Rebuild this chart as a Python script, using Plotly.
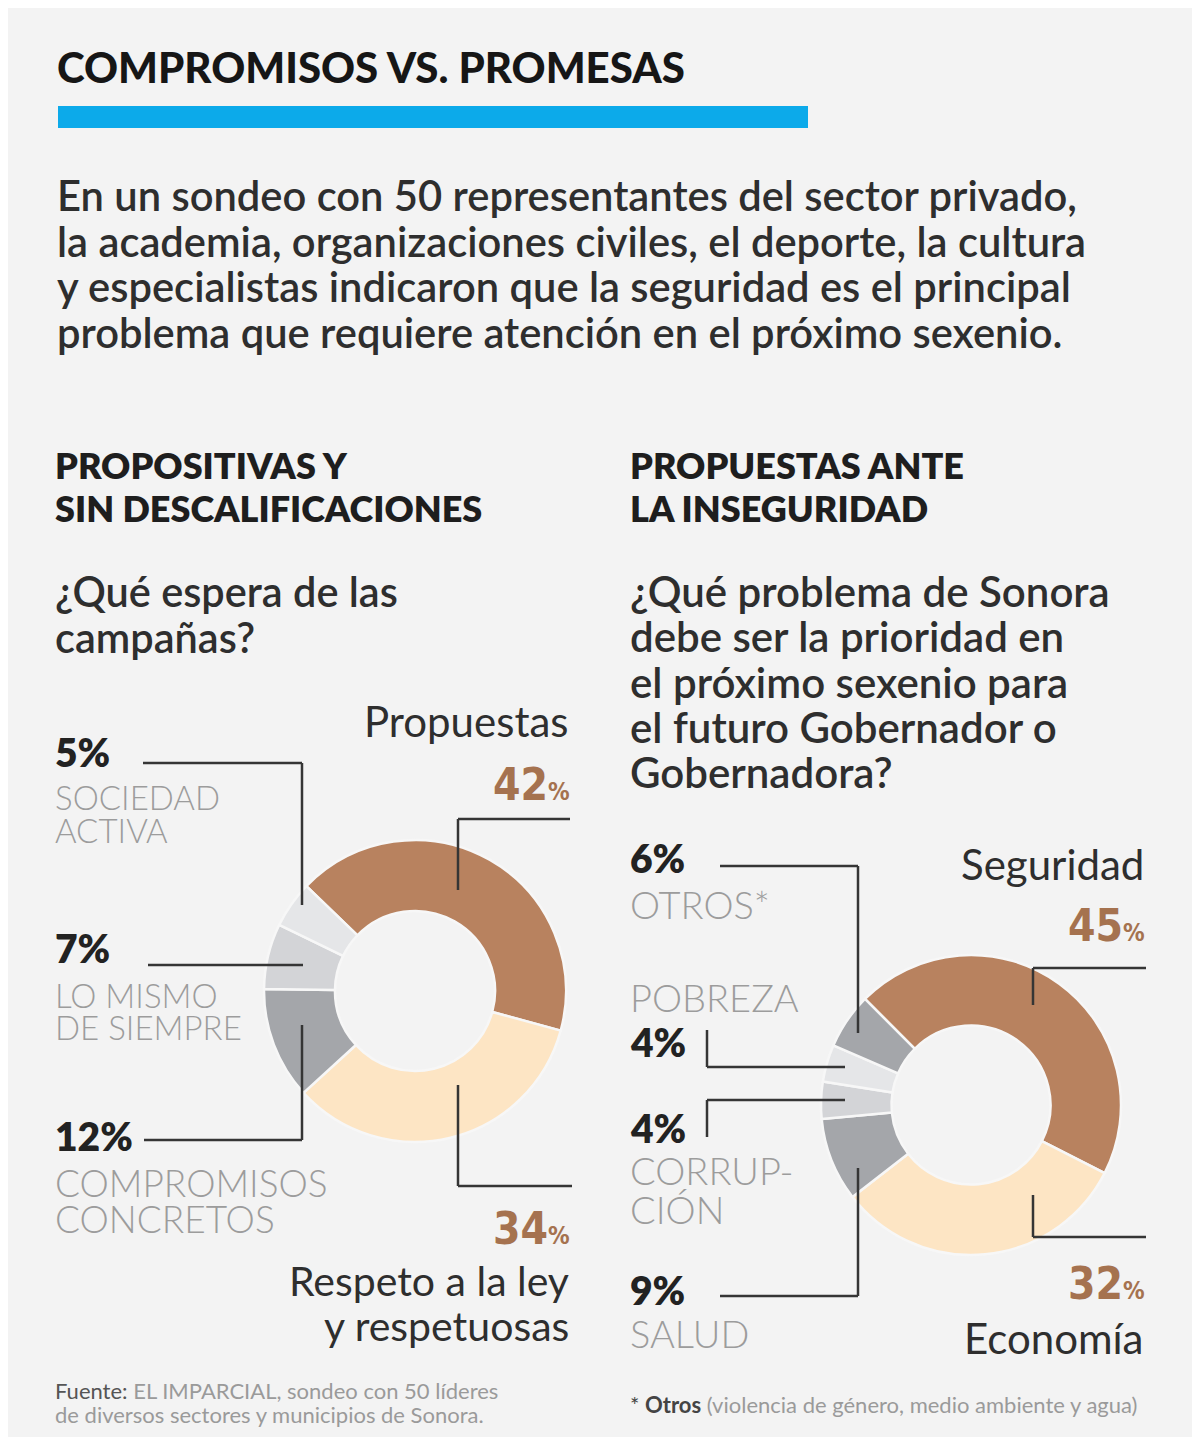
import plotly.graph_objects as go

# the page sits 8px in from the window edge, so the figure is that much smaller
OFF = 8
W = 1200 - OFF
H = 1437 - OFF

campaign_labels = ["Propuestas", "Respeto a la ley y respetuosas", "Compromisos concretos",
                   "Lo mismo de siempre", "Sociedad activa"]
campaign_values = [42, 34, 12, 7, 5]

priority_labels = ["Seguridad", "Economía", "Salud", "Corrupción", "Pobreza", "Otros*"]
priority_values = [45, 32, 9, 4, 4, 6]

BG = "#f3f3f3"
BROWN = "#b8825f"
PEACH = "#fde5c4"
DARK_GRAY = "#a4a6aa"
MID_GRAY = "#d3d4d7"
LIGHT_GRAY = "#e5e6e8"
TEXT = "#2e2e2e"
SOFT = "#9c9c9c"
PCT = "#a5724f"
LINE = "#353535"
SANS = "Lato, 'Open Sans', sans-serif"
NARROW = "'Liberation Sans Narrow', 'DejaVu Sans Condensed', 'Roboto Condensed', sans-serif"

campaign_colors = [BROWN, PEACH, DARK_GRAY, MID_GRAY, LIGHT_GRAY]
priority_colors = [BROWN, PEACH, DARK_GRAY, MID_GRAY, LIGHT_GRAY, DARK_GRAY]


def px(x):
    return (x - OFF) / W


def py(y):
    return 1 - (y - OFF) / H


def domain(cx, cy, r):
    return dict(x=[px(cx - r), px(cx + r)], y=[py(cy + r), py(cy - r)])


fig = go.Figure()

fig.add_trace(go.Pie(
    labels=campaign_labels, values=campaign_values, sort=False,
    direction="clockwise", rotation=-46, hole=0.53,
    marker=dict(colors=campaign_colors, line=dict(color="#f7f7f7", width=2.5)),
    textinfo="none", domain=domain(415, 991, 151), showlegend=False,
))
fig.add_trace(go.Pie(
    labels=priority_labels, values=priority_values, sort=False,
    direction="clockwise", rotation=-45, hole=0.53,
    marker=dict(colors=priority_colors, line=dict(color="#f7f7f7", width=2.5)),
    textinfo="none", domain=domain(971, 1105, 150), showlegend=False,
))

annotations = []


def text(x, y, s, size, color=TEXT, anchor="left", weight="normal", family=SANS):
    annotations.append(dict(
        x=px(x), y=py(y), xref="paper", yref="paper", text=s, showarrow=False,
        xanchor=anchor, yanchor="middle", align=anchor, borderpad=0,
        font=dict(size=size, color=color, family=family, weight=weight),
    ))


def pct(v):
    return str(v) + "<span style='font-size:24px'>%</span>"


shapes = []


def leader(points):
    for (x0, y0), (x1, y1) in zip(points[:-1], points[1:]):
        shapes.append(dict(type="line", xref="paper", yref="paper",
                           x0=px(x0), y0=py(y0), x1=px(x1), y1=py(y1),
                           line=dict(color=LINE, width=2.5)))


# header
text(56, 67, "COMPROMISOS VS. PROMESAS", 42, color="#161616", weight=900)
shapes.append(dict(type="rect", xref="paper", yref="paper", x0=px(58), x1=px(808),
                   y0=py(128), y1=py(106), fillcolor="#0caaea", line=dict(width=0)))
intro = ["En un sondeo con 50 representantes del sector privado,",
         "la academia, organizaciones civiles, el deporte, la cultura",
         "y especialistas indicaron que la seguridad es el principal",
         "problema que requiere atención en el próximo sexenio."]
for i, line in enumerate(intro):
    text(56, 195 + i * 45.7, line, 41.7, weight=600)

# left block
text(54, 465, "PROPOSITIVAS Y", 36, color="#1e1e1e", weight=800)
text(54, 508, "SIN DESCALIFICACIONES", 36, color="#1e1e1e", weight=800)
text(54, 591, "¿Qué espera de las", 41.5, weight=600)
text(54, 637, "campañas?", 41.5, weight=600)

text(570, 721, campaign_labels[0], 42, anchor="right")
text(571, 785, pct(campaign_values[0]), 44, color=PCT, anchor="right", weight=700, family=NARROW)
leader([(570, 819), (458, 819), (458, 890)])

text(54, 752, str(campaign_values[4]) + "%", 39, color="#222222", weight=800)
text(54, 797, "SOCIEDAD", 33, color=SOFT, weight=300)
text(54, 830, "ACTIVA", 33, color=SOFT, weight=300)
leader([(143, 763), (302, 763), (302, 905)])

text(54, 948, str(campaign_values[3]) + "%", 39, color="#222222", weight=800)
text(54, 995, "LO MISMO", 33, color=SOFT, weight=300)
text(54, 1027, "DE SIEMPRE", 33, color=SOFT, weight=300)
leader([(148, 965), (303, 965)])

text(54, 1136, str(campaign_values[2]) + "%", 39, color="#222222", weight=800)
text(54, 1182, "COMPROMISOS", 37, color=SOFT, weight=300)
text(54, 1218, "CONCRETOS", 37, color=SOFT, weight=300)
leader([(144, 1140), (302, 1140), (302, 1025)])

text(571, 1228, pct(campaign_values[1]), 44, color=PCT, anchor="right", weight=700, family=NARROW)
text(570, 1280, "Respeto a la ley", 41, anchor="right")
text(570, 1325, "y respetuosas", 41, anchor="right")
leader([(458, 1085), (458, 1186), (572, 1186)])

# right block
text(629, 465, "PROPUESTAS ANTE", 36, color="#1e1e1e", weight=800)
text(629, 508, "LA INSEGURIDAD", 36, color="#1e1e1e", weight=800)
question = ["¿Qué problema de Sonora", "debe ser la prioridad en", "el próximo sexenio para",
            "el futuro Gobernador o", "Gobernadora?"]
for i, line in enumerate(question):
    text(629, 591 + i * 45.3, line, 42, weight=600)

text(1145, 864, priority_labels[0], 42, anchor="right")
text(1146, 925, pct(priority_values[0]), 44, color=PCT, anchor="right", weight=700, family=NARROW)
leader([(1146, 968), (1033, 968), (1033, 1005)])

text(1146, 1283, pct(priority_values[1]), 44, color=PCT, anchor="right", weight=700, family=NARROW)
text(1145, 1338, priority_labels[1], 42, anchor="right")
leader([(1033, 1195), (1033, 1237), (1146, 1237)])

text(629, 858, str(priority_values[5]) + "%", 39, color="#222222", weight=800)
text(629, 904, "OTROS*", 38, color=SOFT, weight=300)
leader([(720, 866), (858, 866), (858, 1033)])

text(629, 997, "POBREZA", 38, color=SOFT, weight=300)
text(629, 1042, str(priority_values[4]) + "%", 39, color="#222222", weight=800)
leader([(707, 1030), (707, 1067), (845, 1067)])

text(629, 1128, str(priority_values[3]) + "%", 39, color="#222222", weight=800)
text(629, 1170, "CORRUP-", 38, color=SOFT, weight=300)
text(629, 1209, "CIÓN", 38, color=SOFT, weight=300)
leader([(707, 1137), (707, 1100), (845, 1100)])

text(629, 1290, str(priority_values[2]) + "%", 39, color="#222222", weight=800)
text(629, 1333, "SALUD", 38, color=SOFT, weight=300)
leader([(720, 1296), (858, 1296), (858, 1168)])

# footnotes
text(54, 1390, "<span style='color:#555555'>Fuente:</span> EL IMPARCIAL, sondeo con 50 líderes",
     22, color="#9a9a9a")
text(54, 1414, "de diversos sectores y municipios de Sonora.", 22, color="#9a9a9a")
text(629, 1404, "<span style='color:#444444'>* <b>Otros</b></span> (violencia de género, medio ambiente y agua)",
     22, color="#9a9a9a")

fig.update_layout(
    width=W, height=H,
    margin=dict(l=0, r=0, t=0, b=0),
    paper_bgcolor=BG, plot_bgcolor=BG,
    annotations=annotations, shapes=shapes,
)

fig.write_html("out.html")
